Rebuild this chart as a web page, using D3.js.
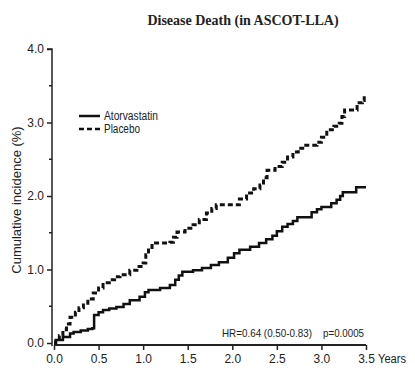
<!DOCTYPE html>
<html>
<head>
<meta charset="utf-8">
<script src="https://cdn.jsdelivr.net/npm/d3@7"></script>
<style>
  body { margin: 0; background: #fff; }
  svg { display: block; }
  text { font-family: 'Liberation Sans', Arial, sans-serif; fill: #222; }
</style>
</head>
<body>
<div id="chart"></div>
<script>
// cumulative incidence (%), [years, value]
const atorvastatin = [
  [0, 0], [0.02, 0.04], [0.1, 0.08], [0.18, 0.13], [0.22, 0.15], [0.3, 0.17],
  [0.38, 0.19], [0.43, 0.2], [0.45, 0.38], [0.5, 0.42], [0.55, 0.45],
  [0.62, 0.47], [0.7, 0.49], [0.78, 0.53], [0.85, 0.58], [0.96, 0.63],
  [1.02, 0.69], [1.06, 0.72], [1.19, 0.75], [1.3, 0.79], [1.36, 0.86],
  [1.4, 0.92], [1.44, 0.97], [1.56, 0.99], [1.66, 1.02], [1.76, 1.06],
  [1.85, 1.1], [1.95, 1.16], [2.02, 1.22], [2.08, 1.27], [2.2, 1.31],
  [2.3, 1.36], [2.38, 1.41], [2.45, 1.46], [2.5, 1.52], [2.56, 1.58],
  [2.62, 1.62], [2.68, 1.66], [2.73, 1.71], [2.89, 1.78], [2.95, 1.82],
  [3.0, 1.85], [3.11, 1.9], [3.17, 1.95], [3.21, 2.0], [3.24, 2.05],
  [3.39, 2.12], [3.5, 2.12]
]

const placebo = [
  [0, 0], [0.02, 0.05], [0.06, 0.1], [0.1, 0.18], [0.14, 0.26], [0.18, 0.35],
  [0.24, 0.42], [0.28, 0.48], [0.33, 0.54], [0.38, 0.6], [0.44, 0.68],
  [0.5, 0.75], [0.55, 0.82], [0.62, 0.86], [0.68, 0.9], [0.74, 0.93],
  [0.85, 0.99], [0.93, 1.04], [1.0, 1.09], [1.03, 1.2], [1.06, 1.3],
  [1.1, 1.36], [1.3, 1.37], [1.34, 1.44], [1.38, 1.51], [1.47, 1.56],
  [1.56, 1.61], [1.63, 1.68], [1.71, 1.77], [1.77, 1.83], [1.82, 1.88],
  [1.99, 1.88], [2.08, 1.96], [2.16, 2.04], [2.24, 2.1], [2.31, 2.15],
  [2.35, 2.25], [2.39, 2.35], [2.48, 2.4], [2.56, 2.46], [2.62, 2.53],
  [2.68, 2.6], [2.74, 2.65], [2.79, 2.69], [2.95, 2.73], [3.0, 2.8],
  [3.06, 2.9], [3.14, 2.95], [3.2, 2.99], [3.23, 3.08], [3.26, 3.17],
  [3.35, 3.17], [3.4, 3.27], [3.46, 3.3], [3.48, 3.36]
]

const xTicks = [0, 0.5, 1, 1.5, 2, 2.5, 3, 3.5]
const yTicks = [0, 1, 2, 3, 4]
const yMinor = [0.5, 1.5, 2.5, 3.5]

const width = 415
const height = 376

const x = d3.scaleLinear().domain([0, 3.5]).range([54, 366])
const y = d3.scaleLinear().domain([0, 4]).range([343, 49])

const svg = d3.select('#chart')
  .append('svg')
  .attr('width', width)
  .attr('height', height)

svg.append('text')
  .attr('x', 243)
  .attr('y', 25)
  .attr('text-anchor', 'middle')
  .style('font-family', "'Liberation Serif', 'Times New Roman', serif")
  .style('font-weight', 'bold')
  .style('font-size', '14px')
  .text('Disease Death (in ASCOT-LLA)')

// y axis
const yAxis = svg.append('g')
  .attr('transform', 'translate(52,0)')
  .call(d3.axisLeft(y).tickValues(yTicks).tickFormat(d3.format('.1f')).tickSize(5).tickPadding(3))
yAxis.select('.domain').attr('stroke', '#222').attr('stroke-width', 1.5).attr('d', `M-5,${y(4)}H0V${y(0) + 3}`)
yAxis.selectAll('.tick line').attr('stroke', '#222').attr('stroke-width', 1.5)
yAxis.selectAll('.tick text').style('font-size', '12px').attr('fill', '#222')

svg.append('g')
  .selectAll('line')
  .data(yMinor)
  .join('line')
  .attr('x1', 49)
  .attr('x2', 52)
  .attr('y1', d => y(d))
  .attr('y2', d => y(d))
  .attr('stroke', '#222')
  .attr('stroke-width', 1.5)

// x axis
const xAxis = svg.append('g')
  .attr('transform', 'translate(0,345)')
  .call(d3.axisBottom(x).tickValues(xTicks).tickFormat(d3.format('.1f')).tickSize(5).tickPadding(4))
xAxis.select('.domain').attr('stroke', '#222').attr('stroke-width', 2).attr('d', `M${x(0)},0H${x(3.5)}`)
xAxis.selectAll('.tick line').attr('stroke', '#222').attr('stroke-width', 1.5)
xAxis.selectAll('.tick text').style('font-size', '12px').attr('fill', '#222')

svg.append('text')
  .attr('x', 378)
  .attr('y', 363)
  .attr('textLength', 28)
  .attr('lengthAdjust', 'spacingAndGlyphs')
  .style('font-size', '12px')
  .text('Years')

svg.append('text')
  .attr('transform', 'translate(21,200) rotate(-90)')
  .attr('text-anchor', 'middle')
  .style('font-size', '13px')
  .text('Cumulative incidence (%)')

const line = d3.line()
  .x(d => x(d[0]))
  .y(d => y(d[1]))
  .curve(d3.curveStepAfter)

svg.append('path')
  .datum(atorvastatin)
  .attr('d', line)
  .attr('fill', 'none')
  .attr('stroke', '#111')
  .attr('stroke-width', 2.5)

svg.append('path')
  .datum(placebo)
  .attr('d', line)
  .attr('fill', 'none')
  .attr('stroke', '#111')
  .attr('stroke-width', 3)
  .attr('stroke-dasharray', '5,3')

// legend
const legend = svg.append('g').attr('transform', 'translate(79,116)')
legend.append('line').attr('x1', 0).attr('x2', 21).attr('y1', 0).attr('y2', 0)
  .attr('stroke', '#111').attr('stroke-width', 2.5)
legend.append('text').attr('x', 25).attr('y', 4).style('font-size', '12px')
  .attr('textLength', 54).attr('lengthAdjust', 'spacingAndGlyphs').text('Atorvastatin')
legend.append('line').attr('x1', 0).attr('x2', 21).attr('y1', 13).attr('y2', 13)
  .attr('stroke', '#111').attr('stroke-width', 2.5).attr('stroke-dasharray', '5,3')
legend.append('text').attr('x', 25).attr('y', 17).style('font-size', '12px')
  .attr('textLength', 36).attr('lengthAdjust', 'spacingAndGlyphs').text('Placebo')

// hazard ratio note
svg.append('text')
  .attr('x', 222)
  .attr('y', 337)
  .attr('textLength', 90)
  .attr('lengthAdjust', 'spacingAndGlyphs')
  .style('font-size', '10.5px')
  .text('HR=0.64 (0.50-0.83)')

svg.append('text')
  .attr('x', 323)
  .attr('y', 337)
  .attr('textLength', 41)
  .attr('lengthAdjust', 'spacingAndGlyphs')
  .style('font-size', '10.5px')
  .text('p=0.0005')
</script>
</body>
</html>
